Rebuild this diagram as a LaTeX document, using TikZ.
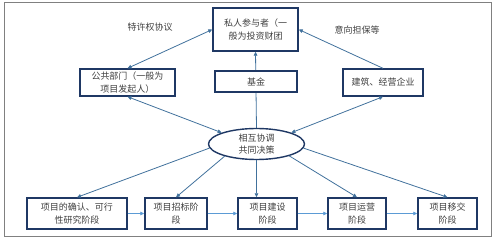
\documentclass[tikz,border=0pt]{standalone}
\usepackage{fontspec}
\newfontfamily\cjk{Noto Sans CJK SC}
\usepackage{xcolor}
\definecolor{boxnavy}{HTML}{1F3864}
\definecolor{arrblue}{HTML}{41719C}
\definecolor{flowblue}{HTML}{5B9BD5}
\definecolor{txtgray}{HTML}{404040}
\usetikzlibrary{arrows.meta,shapes.geometric,backgrounds}
\tikzset{
  pbox/.style ={rectangle, draw=boxnavy, line width=1.4pt, fill=white, align=center,
                inner sep=1pt, text=txtgray, font=\cjk\fontsize{9}{12.5}\selectfont},
  pell/.style ={pbox, ellipse},
  lbl/.style  ={text=txtgray, font=\cjk\fontsize{9}{12.5}\selectfont, inner sep=1pt},
  arr/.style  ={-{Triangle[length=4pt,width=3.6pt]}, draw=arrblue, line width=0.8pt},
  darr/.style ={{Triangle[length=4pt,width=3.6pt]}-{Triangle[length=4pt,width=3.6pt]},
                draw=arrblue, line width=0.8pt},
  farr/.style ={-{Triangle[length=4pt,width=3.6pt]}, draw=flowblue, line width=0.8pt},
}

\begin{document}
\begin{tikzpicture}[x=1pt, y=-1pt]
  \useasboundingbox (0,0) rectangle (499,240);
  \draw[black!50, line width=1pt] (4,3) rectangle (491,237);

  \node[pbox, minimum width=85pt, minimum height=43pt] (priv) at (255.5,29.5) {私人参与者（一\\般为投资财团};
  \node[pbox, minimum width=82pt, minimum height=21pt] (fund) at (256,81.5) {基金};
  \node[pbox, minimum width=95pt, minimum height=27pt] (pub) at (127.5,82.5) {公共部门（一般为\\项目发起人）};
  \node[pbox, minimum width=80pt, minimum height=27pt] (con) at (383,82.5) {建筑、经营企业};
  \node[pell, inner sep=0pt, minimum width=96pt, minimum height=31pt] (ell) at (256.5,144) {相互协调\\共同决策};

  \node[pbox, minimum width=100pt, minimum height=31pt] (b1) at (77,213.5) {项目的确认、可行\\性研究阶段};
  \node[pbox, minimum width=62pt, minimum height=31pt] (b2) at (176,213.5) {项目招标阶\\段};
  \node[pbox, minimum width=59pt, minimum height=31pt] (b3) at (267.5,213.5) {项目建设\\阶段};
  \node[pbox, minimum width=58pt, minimum height=31pt] (b4) at (357,213.5) {项目运营\\阶段};
  \node[pbox, minimum width=59pt, minimum height=31pt] (b5) at (447.5,213.5) {项目移交\\阶段};

  \node[lbl] (l1) at (150,27) {特许权协议};
  \node[lbl] (l2) at (357,30) {意向担保等};

  % links to the investor
  \draw[darr] (pub.north) -- (priv.west);
  \draw[arr] (con.north) -- (priv.east);
  \begin{scope}[on background layer]
    \draw[arr] (ell.north) -- (priv.south);
  \end{scope}
  \draw[darr] (pub.south) -- (ell.162);
  \draw[darr] (con.south) -- (ell.18);

  % decision to the stages
  \draw[arr] (ell.185) -- (b1.north);
  \draw[arr] (ell.201) -- (b2.north);
  \draw[arr] (ell.south) -- (ell.south |- b3.north);
  \draw[arr] (ell.-20) -- (b4.north);
  \draw[arr] (ell.-5) -- (b5.north);

  \draw[farr] (b1) -- (b2);
  \draw[farr] (b2) -- (b3);
  \draw[farr] (b3) -- (b4);
  \draw[farr] (b4) -- (b5);
\end{tikzpicture}
\end{document}
